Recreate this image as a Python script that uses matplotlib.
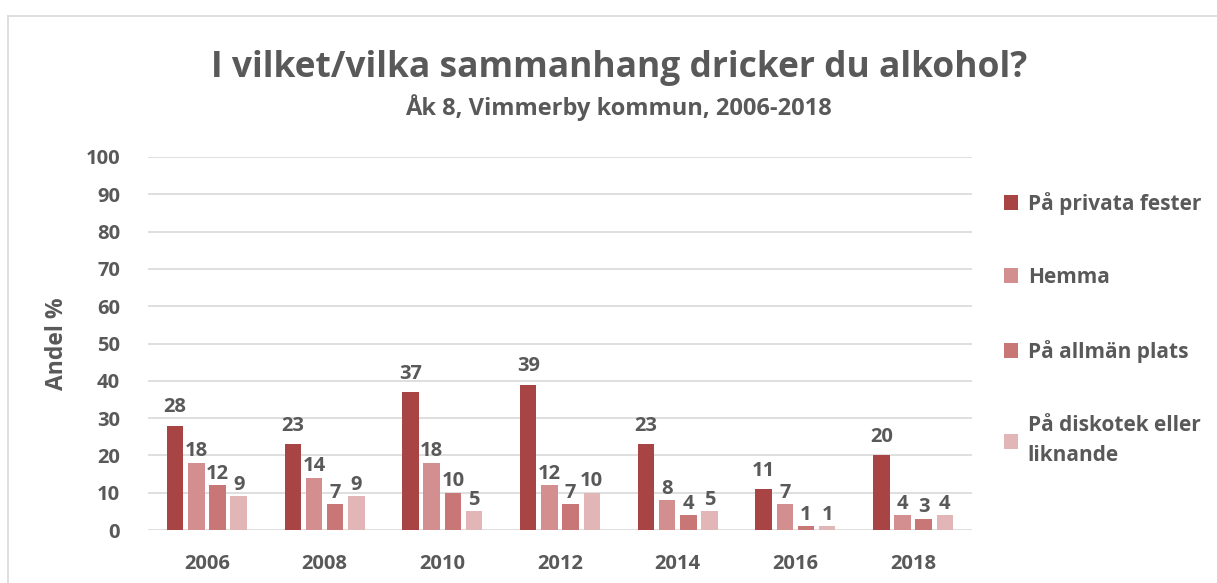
import matplotlib.pyplot as plt
import numpy as np
from matplotlib.lines import Line2D

# data
years = ["2006", "2008", "2010", "2012", "2014", "2016", "2018"]
series_names = ["På privata fester", "Hemma", "På allmän plats",
                "På diskotek eller\nliknande"]
privata_fester = [28, 23, 37, 39, 23, 11, 20]
hemma = [18, 14, 18, 12, 8, 7, 4]
allman_plats = [12, 7, 10, 7, 4, 1, 3]
diskotek = [9, 9, 5, 10, 5, 1, 4]
yticks = [0, 10, 20, 30, 40, 50, 60, 70, 80, 90, 100]

colors = ["#A84444", "#D38F8F", "#C87676", "#E2B6B6"]
text_gray = "#595959"

plt.rcParams['font.family'] = ['Open Sans', 'DejaVu Sans']
plt.rcParams['font.weight'] = 'bold'

fig = plt.figure(figsize=(12.17, 5.83), dpi=100)
ax = fig.add_axes([148 / 1217, 1 - 530 / 583, 824 / 1217, 373 / 583])

x = np.arange(len(years))
width = 0.14
step = 0.18
all_series = [privata_fester, hemma, allman_plats, diskotek]
for i, vals in enumerate(all_series):
    pos = x + (i - 1.5) * step
    bars = ax.bar(pos, vals, width, color=colors[i], label=series_names[i],
                  zorder=3)
    off = 6 if i == 0 else 1
    for b, v in zip(bars, vals):
        ax.annotate(str(v), (b.get_x() + b.get_width() / 2, v),
                    xytext=(0, off), textcoords="offset points",
                    ha="center", va="bottom", fontsize=14.5,
                    fontweight="bold", color=text_gray)

ax.set_xlim(-0.5, len(years) - 0.5)
ax.set_ylim(0, 100)
ax.set_yticks(yticks)
ax.set_xticks(x, years)
ax.grid(axis="y", color="#D9D9D9", linewidth=1.2, zorder=0)
ax.set_axisbelow(True)
for s in ["top", "right", "left", "bottom"]:
    ax.spines[s].set_visible(False)
ax.tick_params(axis="both", length=0, labelsize=14.5, labelcolor=text_gray)
ax.tick_params(axis="y", pad=20)
ax.tick_params(axis="x", pad=17)
ax.set_ylabel("Andel %", fontsize=16.5, fontweight="bold", color=text_gray,
              labelpad=12)

fig.text(0.509, 0.884, "I vilket/vilka sammanhang dricker du alkohol?",
         ha="center", va="center", fontsize=25.5, fontweight="bold",
         color=text_gray)
fig.text(0.508, 0.815, "Åk 8, Vimmerby kommun, 2006-2018", ha="center",
         va="center", fontsize=17, fontweight="bold", color=text_gray)

leg = ax.legend(loc="upper left", bbox_to_anchor=(985 / 1217, 0.703),
                bbox_transform=fig.transFigure, frameon=False,
                handlelength=0.7, handleheight=0.7, handletextpad=0.45,
                labelspacing=2.5, fontsize=15)
for t in leg.get_texts():
    t.set_color(text_gray)
    t.set_fontweight("bold")
leg.get_texts()[-1].set_linespacing(1.55)

# outer chart border
fig.add_artist(Line2D([8 / 1217, 8 / 1217], [0, 1 - 16 / 583],
                      transform=fig.transFigure, color="#D9D9D9", lw=1.2))
fig.add_artist(Line2D([8 / 1217, 1], [1 - 16 / 583, 1 - 16 / 583],
                      transform=fig.transFigure, color="#D9D9D9", lw=1.2))

fig.savefig("out.png", dpi=100)
